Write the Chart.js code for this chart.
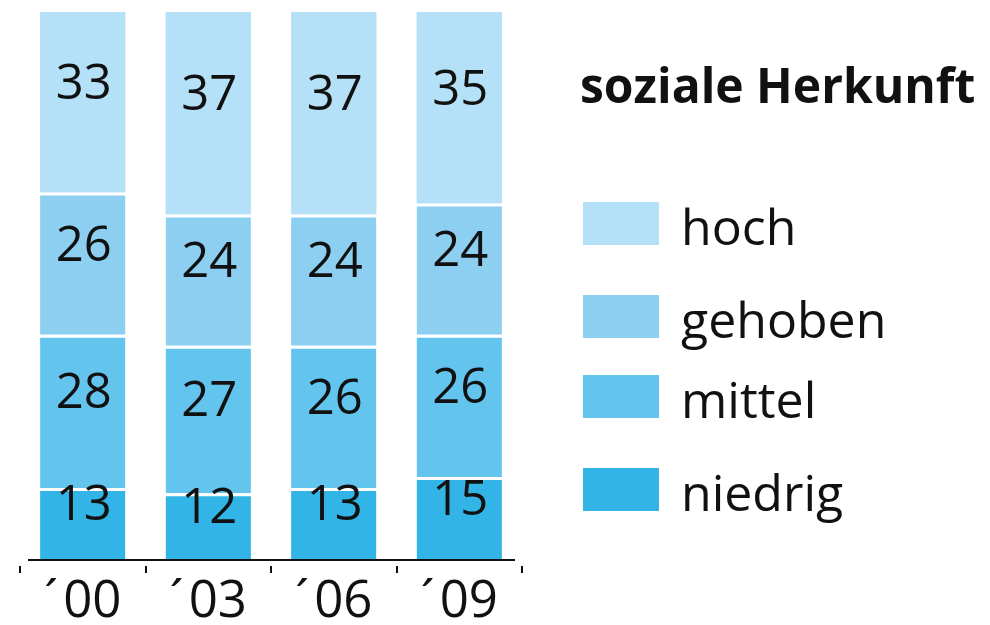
<!DOCTYPE html>
<html lang="de">
<head>
  <meta charset="UTF-8" />
  <title>soziale Herkunft</title>
  <script src="https://cdn.jsdelivr.net/npm/chart.js"></script>
  <style>
    html, body { margin: 0; padding: 0; background: #fff; }
    #wrap { width: 990px; height: 625px; position: relative; }
  </style>
</head>
<body>
<div id="wrap"><canvas id="chart"></canvas></div>
<script>
  // data (percent)
  const years = ['\u00B4\u200A00', '\u00B4\u200A03', '\u00B4\u200A06', '\u00B4\u200A09'];
  const niedrig = [13, 12, 13, 15];
  const mittel = [28, 27, 26, 26];
  const gehoben = [26, 24, 24, 24];
  const hoch = [33, 37, 37, 35];

  const legendTitle = 'soziale Herkunft';

  // value labels inside each segment
  const segmentLabels = {
    id: 'segmentLabels',
    afterDatasetsDraw(chart) {
      const ctx = chart.ctx;
      ctx.save();
      ctx.font = '49px "Open Sans"';
      ctx.fillStyle = '#111';
      ctx.textAlign = 'center';
      ctx.textBaseline = 'middle';
      chart.data.datasets.forEach((ds, i) => {
        chart.getDatasetMeta(i).data.forEach((bar, j) => {
          const y = (bar.y + bar.base) / 2 - 17;
          ctx.fillText(String(ds.data[j]), bar.x + 1, y);
        });
      });
      ctx.restore();
    }
  };

  // baseline and the small tick marks between categories
  const axisMarks = {
    id: 'axisMarks',
    afterDraw(chart) {
      const ctx = chart.ctx;
      const x = chart.scales.x;
      const area = chart.chartArea;
      const half = (x.getPixelForValue(1) - x.getPixelForValue(0)) / 2;
      ctx.save();
      ctx.strokeStyle = '#111';
      ctx.lineWidth = 2;
      ctx.beginPath();
      ctx.moveTo(area.left + 8, area.bottom + 1);
      ctx.lineTo(area.right - 7, area.bottom + 1);
      ctx.stroke();
      ctx.beginPath();
      for (let i = 0; i <= years.length; i++) {
        const px = Math.round(x.getPixelForValue(i) - half);
        ctx.moveTo(px, area.bottom + 7);
        ctx.lineTo(px, area.bottom + 14);
      }
      ctx.stroke();
      ctx.restore();
    }
  };

  // legend on the right, top entry = top segment
  const sideLegend = {
    id: 'sideLegend',
    afterDraw(chart) {
      const ctx = chart.ctx;
      const boxTops = [202, 295, 375, 468];
      ctx.save();
      ctx.fillStyle = '#111';
      ctx.textBaseline = 'alphabetic';
      ctx.font = 'bold 48px "Open Sans"';
      ctx.fillText(legendTitle, 580, 103);
      ctx.font = '50px "Open Sans"';
      const items = chart.data.datasets.slice().reverse();
      items.forEach((ds, k) => {
        const top = boxTops[k];
        ctx.fillStyle = ds.backgroundColor;
        ctx.fillRect(583, top, 76, 43);
        ctx.fillStyle = '#111';
        ctx.fillText(ds.label, 681, top + 43);
      });
      ctx.restore();
    }
  };

  const gap = { top: 3, left: 0, right: 0, bottom: 0 };

  new Chart(document.getElementById('chart'), {
    type: 'bar',
    data: {
      labels: years,
      datasets: [
        { label: 'niedrig', data: niedrig, backgroundColor: '#33b4e6', borderColor: '#fff', borderWidth: gap, borderSkipped: false },
        { label: 'mittel', data: mittel, backgroundColor: '#63c4ee', borderColor: '#fff', borderWidth: gap, borderSkipped: false },
        { label: 'gehoben', data: gehoben, backgroundColor: '#8ccff1', borderColor: '#fff', borderWidth: gap, borderSkipped: false },
        { label: 'hoch', data: hoch, backgroundColor: '#b4e1f7', borderWidth: 0 }
      ]
    },
    options: {
      responsive: true,
      maintainAspectRatio: false,
      animation: false,
      layout: { padding: { left: 20, right: 468, top: 12, bottom: 0 } },
      datasets: { bar: { barPercentage: 0.85, categoryPercentage: 0.8 } },
      plugins: {
        legend: { display: false },
        tooltip: { enabled: false }
      },
      scales: {
        x: {
          stacked: true,
          grid: { display: false, drawTicks: false },
          border: { display: false },
          afterFit(scale) { scale.height = 66; },
          ticks: {
            color: '#111',
            padding: 18,
            font: { family: 'Open Sans', size: 51, lineHeight: 1.0 }
          }
        },
        y: {
          stacked: true,
          display: false,
          min: 0,
          max: 100
        }
      }
    },
    plugins: [segmentLabels, axisMarks, sideLegend]
  });
</script>
</body>
</html>
